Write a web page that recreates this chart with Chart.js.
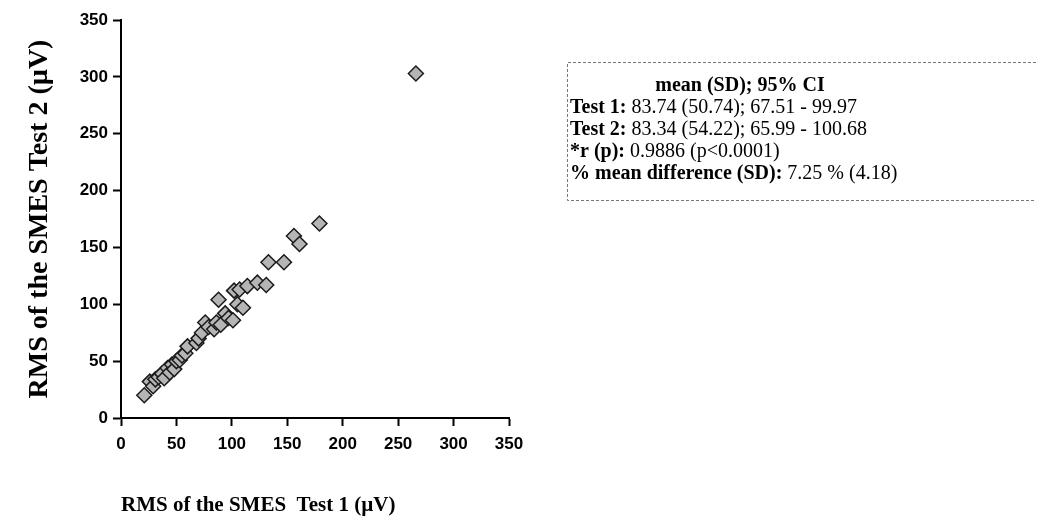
<!DOCTYPE html>
<html>
<head>
<meta charset="utf-8">
<script src="https://cdn.jsdelivr.net/npm/chart.js@4/dist/chart.umd.min.js"></script>
<style>
html,body{margin:0;padding:0;background:#fff;}
#wrap{width:1040px;height:519px;position:relative;}
</style>
</head>
<body>
<div id="wrap"><canvas id="c" width="1040" height="519"></canvas></div>
<script>
// Data (RMS Test 1 vs Test 2, µV)
const test1 = [21,26,29,31,34,37,39,42,44,46,48,50,53,55,58,60,68,70,73,76,79,84,86,88,90,94,97,101,102,105,107,110,114,123,131,133,147,156,161,179,266];
const test2 = [20,32,28,34,36,39,35,44,40,47,43,50,51,55,57,63,66,70,75,84,80,78,84,104,82,92,88,86,112,100,113,97,116,119,117,137,137,160,153,171,303];
const axisTicks = [0,50,100,150,200,250,300,350];
const xTitle = 'RMS of the SMES  Test 1 (\u00b5V)';
const yTitle = 'RMS of the SMES Test 2 (\u00b5V)';
const boxHeader = 'mean (SD); 95% CI';
const boxLabels = ['Test 1: ', 'Test 2: ', '*r (p): ', '% mean difference (SD): '];
const boxValues = ['83.74 (50.74); 67.51 - 99.97', '83.34 (54.22); 65.99 - 100.68', '0.9886 (p<0.0001)', '7.25 % (4.18)'];

const points = test1.map((x, i) => ({x: x, y: test2[i]}));

const statsBox = {
  id: 'statsBox',
  afterDraw(chart) {
    const ctx = chart.ctx;
    ctx.save();
    // box border (dotted / dashed, open on the right)
    ctx.strokeStyle = '#777';
    ctx.lineWidth = 1;
    ctx.setLineDash([3, 2]);
    ctx.beginPath();
    ctx.moveTo(1036, 62.5); ctx.lineTo(567.5, 62.5); ctx.lineTo(567.5, 200.5); ctx.lineTo(1036, 200.5);
    ctx.stroke();
    ctx.setLineDash([]);
    ctx.fillStyle = '#000';
    ctx.textBaseline = 'middle';
    ctx.font = 'bold 20px "Liberation Serif", "Times New Roman", serif';
    ctx.textAlign = 'center';
    ctx.fillText(boxHeader, 740, 86);
    ctx.textAlign = 'left';
    const ys = [108, 130, 152, 174];
    boxLabels.forEach((lab, i) => {
      ctx.font = 'bold 20px "Liberation Serif", "Times New Roman", serif';
      ctx.fillText(lab.trimEnd(), 570, ys[i]);
      const w = ctx.measureText(lab).width;
      ctx.font = '20px "Liberation Serif", "Times New Roman", serif';
      ctx.fillText(boxValues[i], 570 + w, ys[i]);
    });
    ctx.restore();
  }
};

const tickFont = {family: '"Liberation Sans", Arial, sans-serif', size: 17, weight: 'bold'};
const xTitleFont = {family: '"Liberation Serif", "Times New Roman", serif', size: 21, weight: 'bold'};
const yTitleFont = {family: '"Liberation Serif", "Times New Roman", serif', size: 28, weight: 'bold'};

new Chart(document.getElementById('c'), {
  type: 'scatter',
  data: {
    datasets: [{
      data: points,
      pointStyle: 'rectRot',
      pointRadius: 7.5,
      pointHoverRadius: 7.5,
      backgroundColor: '#b5b5b5',
      borderColor: '#1a1a1a',
      borderWidth: 1.5
    }]
  },
  options: {
    responsive: false,
    animation: false,
    events: [],
    layout: {padding: {top: 20, right: 531, left: 0, bottom: 0}},
    plugins: {legend: {display: false}, tooltip: {enabled: false}},
    scales: {
      x: {
        type: 'linear', min: 0, max: 350,
        afterBuildTicks: s => { s.ticks = axisTicks.map(v => ({value: v})); },
        afterFit: s => { s.height = 101; },
        border: {display: true, color: '#000', width: 2},
        grid: {drawOnChartArea: false, drawTicks: true, tickLength: 8, color: '#000', tickWidth: 2},
        ticks: {color: '#000', font: tickFont, padding: 8, maxRotation: 0},
        title: {display: true, text: xTitle, color: '#000', font: xTitleFont, align: 'start', padding: {top: 0, bottom: 1}}
      },
      y: {
        type: 'linear', min: 0, max: 350,
        afterBuildTicks: s => { s.ticks = axisTicks.map(v => ({value: v})); },
        afterFit: s => { s.width = 121; },
        border: {display: true, color: '#000', width: 2},
        grid: {drawOnChartArea: false, drawTicks: true, tickLength: 8, color: '#000', tickWidth: 2},
        ticks: {color: '#000', font: tickFont, padding: 5},
        title: {display: true, text: yTitle, color: '#000', font: yTitleFont, padding: {top: 23, bottom: 0}}
      }
    }
  },
  plugins: [statsBox]
});
</script>
</body>
</html>
